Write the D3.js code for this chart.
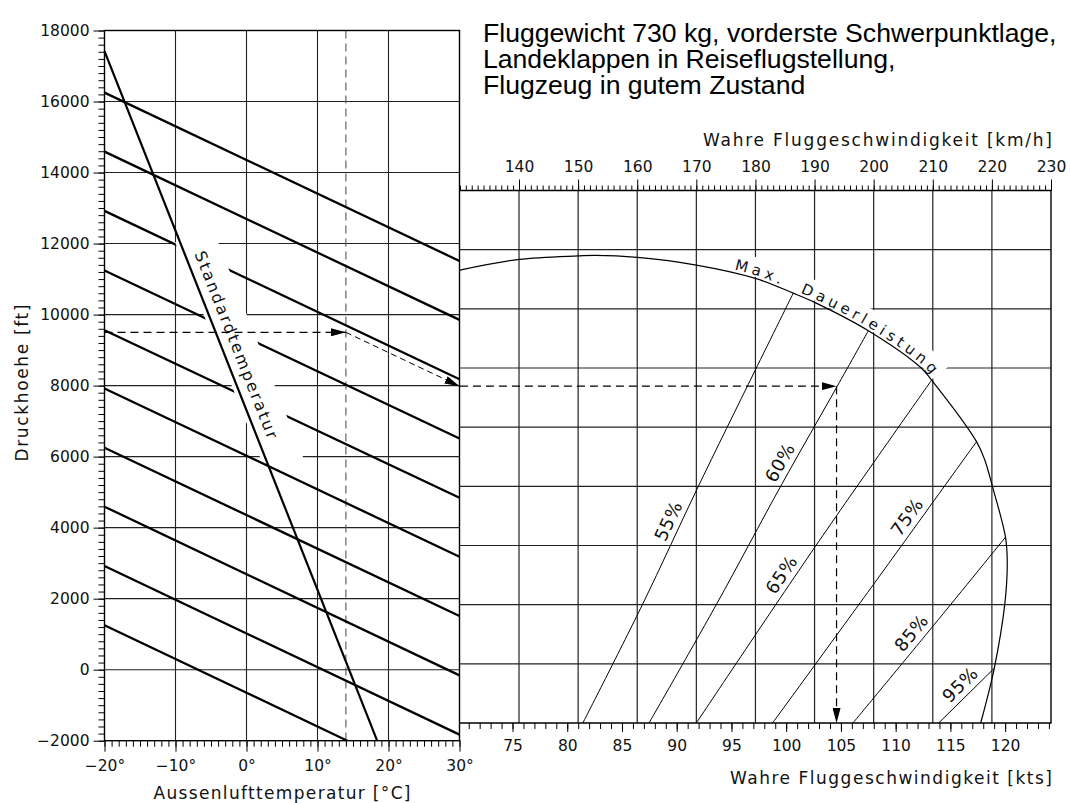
<!DOCTYPE html>
<html>
<head>
<meta charset="utf-8">
<script src="https://cdn.jsdelivr.net/npm/d3@7"></script>
<style>
  body { margin: 0; background: #fff; }
  text { font-family: "DejaVu Sans", sans-serif; fill: #111; }
  .title text { font-family: "Liberation Sans", Arial, sans-serif; font-size: 25px; fill: #000; }
</style>
</head>
<body>
<div id="chart"></div>
<script>
// ---- left panel: pressure altitude / outside air temperature ----
const tempTicks = [-20, -10, 0, 10, 20, 30];
const altTicks = [-2000, 0, 2000, 4000, 6000, 8000, 10000, 12000, 14000, 16000, 18000];
// density altitude guide lines, [OAT degC, pressure alt ft]
const densityLines = [
  [[-20, 16250], [30, 11510]],
  [[-20, 14590], [30, 9850]],
  [[-20, 12920], [30, 8180]],
  [[-20, 11240], [30, 6510]],
  [[-20, 9560], [30, 4840]],
  [[-20, 7920], [30, 3180]],
  [[-20, 6250], [30, 1510]],
  [[-20, 4590], [30, -160]],
  [[-20, 2920], [30, -1830]],
  [[-20, 1250], [14.2, -2000]]
];
const standardTemp = [[-20, 17420], [18.4, -2000]];

// example reading
const exampleOAT = 14;
const examplePA = 9500;
const exampleTAS = 104.6; // kts

// ---- right panel: true airspeed ----
const kmhTicks = [140, 150, 160, 170, 180, 190, 200, 210, 220, 230];
const ktsTicks = [75, 80, 85, 90, 95, 100, 105, 110, 115, 120];
const powerNames = ["55%", "60%", "65%", "75%", "85%", "95%"];
// [km/h, density scale ft]
const powerLines = [
  [[150.8, -2000], [160.9, 2010], [170.1, 5900], [179.9, 9900], [186.4, 12530]],
  [[162.0, -2000], [173.4, 2010], [184.4, 6050], [193.8, 9370], [199.1, 11260]],
  [[170.0, -2000], [190.1, 3960], [209.8, 9590]],
  [[182.9, -2000], [200.1, 2720], [217.4, 7510]],
  [[196.5, -2000], [210.1, 1290], [222.3, 4280]],
  [[211.0, -2000], [220.4, -150]]
];
const powerLabelAt = [4650, 6600, 2780, 4720, 780, -1000];
const maxContinuous = [
  [130, 13310], [140, 13670], [150, 13790], [153, 13810], [160, 13740], [170, 13480],
  [180, 13030], [186.4, 12530], [190.1, 12210], [199.1, 11260], [208.0, 10010],
  [209.8, 9590], [217.4, 7510], [218.8, 6890], [220.1, 5990], [222.3, 4280],
  [222.6, 3400], [222.2, 2050], [220.4, -150], [218.1, -2000]
];
const titleLines = [
  "Fluggewicht 730 kg, vorderste Schwerpunktlage,",
  "Landeklappen in Reiseflugstellung,",
  "Flugzeug in gutem Zustand"
];

const W = 1070, H = 803;
const svg = d3.select("#chart").append("svg").attr("width", W).attr("height", H);

const xT = d3.scaleLinear().domain([-20, 30]).range([104.5, 459.5]);
const yA = d3.scaleLinear().domain([-2000, 18000]).range([740.7, 30.5]);
const xK = d3.scaleLinear().domain([130, 230]).range([459.9, 1051]);
const xKts = d3.scaleLinear().domain([130 / 1.852, 230 / 1.852]).range([459.9, 1051]);
const yD = d3.scaleLinear().domain([-2000, 16000]).range([723, 190.5]);

const defs = svg.append("defs");
defs.append("marker")
  .attr("id", "arrow")
  .attr("viewBox", "0 0 15 8")
  .attr("refX", 15).attr("refY", 4)
  .attr("markerWidth", 15).attr("markerHeight", 8)
  .attr("markerUnits", "userSpaceOnUse")
  .attr("orient", "auto")
  .append("path").attr("d", "M0,0L15,4L0,8Z").attr("fill", "#000");

// ================= left panel =================
const gL = svg.append("g");

gL.selectAll("line.h")
  .data(altTicks.slice(1, -1))
  .enter().append("line")
  .attr("x1", xT(-20)).attr("x2", xT(30))
  .attr("y1", d => yA(d)).attr("y2", d => yA(d))
  .attr("stroke", "#222").attr("stroke-width", 1.1);

gL.selectAll("line.v")
  .data(tempTicks.slice(1, -1))
  .enter().append("line")
  .attr("x1", d => xT(d)).attr("x2", d => xT(d))
  .attr("y1", yA(-2000)).attr("y2", yA(18000))
  .attr("stroke", "#222").attr("stroke-width", 1.1);

gL.append("line")
  .attr("x1", xT(exampleOAT)).attr("x2", xT(exampleOAT))
  .attr("y1", yA(18000)).attr("y2", yA(-2000))
  .attr("stroke", "#555").attr("stroke-width", 1.1)
  .attr("stroke-dasharray", "8,5");

const lineL = d3.line().x(d => xT(d[0])).y(d => yA(d[1]));

gL.selectAll("path.dens")
  .data(densityLines)
  .enter().append("path")
  .attr("d", lineL)
  .attr("fill", "none").attr("stroke", "#000").attr("stroke-width", 2.3);

// white band behind the "Standardtemperatur" label
const stdX = a => {
  const [p0, p1] = standardTemp;
  const t = (a - p0[1]) / (p1[1] - p0[1]);
  return xT(p0[0] + t * (p1[0] - p0[0]));
};
const bandTop = 12040, bandBot = 5900;
gL.append("path")
  .attr("d", `M${stdX(bandTop) - 5},${yA(bandTop)}L${stdX(bandTop) + 38},${yA(bandTop)}` +
             `L${stdX(bandBot) + 38},${yA(bandBot)}L${stdX(bandBot) - 5},${yA(bandBot)}Z`)
  .attr("fill", "#fff");

gL.append("path")
  .datum(standardTemp)
  .attr("d", lineL)
  .attr("fill", "none").attr("stroke", "#000").attr("stroke-width", 2.2);

{
  const a = 9000;
  const p0 = [xT(standardTemp[0][0]), yA(standardTemp[0][1])];
  const p1 = [xT(standardTemp[1][0]), yA(standardTemp[1][1])];
  const ang = Math.atan2(p1[1] - p0[1], p1[0] - p0[0]) * 180 / Math.PI;
  gL.append("text")
    .attr("transform", `translate(${stdX(a)},${yA(a)}) rotate(${ang})`)
    .attr("dy", -9)
    .attr("text-anchor", "middle")
    .attr("textLength", 200).attr("lengthAdjust", "spacing")
    .style("font-size", "16px")
    .text("Standardtemperatur");
}

gL.append("rect")
  .attr("x", xT(-20)).attr("y", yA(18000))
  .attr("width", xT(30) - xT(-20)).attr("height", yA(-2000) - yA(18000))
  .attr("fill", "none").attr("stroke", "#000").attr("stroke-width", 1.4);

// axes (left)
const fmtTemp = d => (d < 0 ? "\u2212" + Math.abs(d) : d) + "\u00b0";
const fmtAlt = d => (d < 0 ? "\u2212" + Math.abs(d) : "" + d);

gL.append("g").attr("transform", `translate(${xT(-20)},0)`)
  .call(d3.axisLeft(yA).tickValues(d3.range(-2000, 18001, 200)).tickSize(6).tickFormat(""));
gL.append("g").attr("transform", `translate(${xT(-20)},0)`)
  .call(d3.axisLeft(yA).tickValues(altTicks).tickSize(11).tickPadding(4).tickFormat(fmtAlt));
gL.append("g").attr("transform", `translate(0,${yA(-2000)})`)
  .call(d3.axisBottom(xT).tickValues(d3.range(-20, 31, 1)).tickSize(6).tickFormat(""));
gL.append("g").attr("transform", `translate(0,${yA(-2000)})`)
  .call(d3.axisBottom(xT).tickValues(tempTicks).tickSize(11).tickPadding(8).tickFormat(fmtTemp));

gL.append("text")
  .attr("x", (xT(-20) + xT(30)) / 2).attr("y", 799)
  .attr("text-anchor", "middle")
  .attr("textLength", 257).attr("lengthAdjust", "spacing")
  .style("font-size", "17px")
  .text("Aussenlufttemperatur  [\u00b0C]");

gL.append("text")
  .attr("transform", "translate(28,383) rotate(-90)")
  .attr("text-anchor", "middle")
  .attr("textLength", 157).attr("lengthAdjust", "spacing")
  .style("font-size", "17px")
  .text("Druckhoehe  [ft]");

// ================= right panel =================
const gR = svg.append("g");

gR.selectAll("line.h")
  .data(d3.range(0, 14001, 2000))
  .enter().append("line")
  .attr("x1", xK(130)).attr("x2", xK(230))
  .attr("y1", d => yD(d)).attr("y2", d => yD(d))
  .attr("stroke", "#222").attr("stroke-width", 1.2);

gR.selectAll("line.v")
  .data(kmhTicks.slice(0, -1))
  .enter().append("line")
  .attr("x1", d => xK(d)).attr("x2", d => xK(d))
  .attr("y1", yD(16000)).attr("y2", yD(-2000))
  .attr("stroke", "#222").attr("stroke-width", 1.2);

const lineR = d3.line().x(d => xK(d[0])).y(d => yD(d[1])).curve(d3.curveCatmullRom);

// max. continuous power limit
const arcPath = gR.append("path")
  .datum(maxContinuous)
  .attr("d", lineR)
  .attr("fill", "none").attr("stroke", "#000").attr("stroke-width", 1.2);

const node = arcPath.node();
const total = node.getTotalLength();
const lenAtX = px => {
  for (let l = 0; l <= total; l += 0.5) if (node.getPointAtLength(l).x >= px) return l;
  return total;
};
const l0 = lenAtX(xK(176.2)), l1 = lenAtX(xK(209.5));
const offsetPts = (a, b, off) => {
  const pts = [];
  for (let l = a; l <= b; l += 2) {
    const p = node.getPointAtLength(l), q = node.getPointAtLength(l + 1);
    const tx = q.x - p.x, ty = q.y - p.y, n = Math.hypot(tx, ty) || 1;
    pts.push([p.x + ty / n * off, p.y - tx / n * off]);
  }
  return pts;
};
gR.insert("path", () => node)
  .attr("d", d3.line()(offsetPts(l0 - 6, l1 + 4, 11)))
  .attr("fill", "none").attr("stroke", "#fff").attr("stroke-width", 19);

defs.append("path").attr("id", "arcText")
  .attr("d", d3.line()(offsetPts(l0, l1 + 30, 3)));
gR.append("text")
  .style("font-size", "15px").style("white-space", "pre")
  .append("textPath")
  .attr("href", "#arcText")
  .attr("textLength", l1 - l0).attr("lengthAdjust", "spacing")
  .text("Max.  Dauerleistung");

// power setting lines
gR.selectAll("path.pow")
  .data(powerLines)
  .enter().append("path")
  .attr("d", lineR)
  .attr("fill", "none").attr("stroke", "#000").attr("stroke-width", 1);

const pointAtY = (pts, y) => {
  for (let i = 0; i < pts.length - 1; i++) {
    const [x0, y0] = pts[i], [x1, y1] = pts[i + 1];
    if ((y - y0) * (y - y1) <= 0) {
      const t = (y - y0) / (y1 - y0);
      return { x: x0 + t * (x1 - x0), y, ang: Math.atan2(y1 - y0, x1 - x0) * 180 / Math.PI };
    }
  }
  return null;
};
powerLines.forEach((ln, i) => {
  const px = ln.map(d => [xK(d[0]), yD(d[1])]);
  const p = pointAtY(px, yD(powerLabelAt[i]));
  gR.append("text")
    .attr("transform", `translate(${p.x},${p.y}) rotate(${p.ang})`)
    .attr("dy", -6)
    .attr("text-anchor", "middle")
    .style("font-size", "18px").style("letter-spacing", "0.5px")
    .text(powerNames[i]);
});

gR.append("path")
  .attr("d", `M${xK(130)},${yD(16000)}H${xK(230)}V${yD(-2000)}H${xK(130)}`)
  .attr("fill", "none").attr("stroke", "#000").attr("stroke-width", 1.4);

gR.append("g").attr("transform", `translate(0,${yD(16000)})`)
  .call(d3.axisTop(xK).tickValues(d3.range(130, 231, 1)).tickSize(5).tickFormat(""));
gR.append("g").attr("transform", `translate(0,${yD(16000)})`)
  .call(d3.axisTop(xK).tickValues(kmhTicks).tickSize(11).tickPadding(8));
gR.append("g").attr("transform", `translate(0,${yD(-2000)})`)
  .call(d3.axisBottom(xKts).tickValues(d3.range(71, 125, 1)).tickSize(6).tickFormat(""));
gR.append("g").attr("transform", `translate(0,${yD(-2000)})`)
  .call(d3.axisBottom(xKts).tickValues(ktsTicks).tickSize(9).tickPadding(8));

gR.append("text")
  .attr("x", 1052).attr("y", 146)
  .attr("text-anchor", "end")
  .attr("textLength", 349).attr("lengthAdjust", "spacing")
  .style("font-size", "17px")
  .text("Wahre Fluggeschwindigkeit  [km/h]");
gR.append("text")
  .attr("x", 1052).attr("y", 784)
  .attr("text-anchor", "end")
  .attr("textLength", 322).attr("lengthAdjust", "spacing")
  .style("font-size", "17px")
  .text("Wahre Fluggeschwindigkeit  [kts]");

// axis styling
svg.selectAll(".domain").remove();
svg.selectAll(".tick line").attr("stroke", "#000").attr("stroke-width", 1);
svg.selectAll(".tick text")
  .style("font-family", "\"DejaVu Sans\", sans-serif")
  .style("font-size", "15.5px").attr("fill", "#111");

// ================= example reading =================
const gE = svg.append("g");
const [[ta, aa], [tb, ab]] = densityLines[0];
const densSlope = (ab - aa) / (tb - ta);
const altAt30 = examplePA + densSlope * (30 - exampleOAT);
const yMid = yA(altAt30);

gE.append("line")
  .attr("x1", xT(-20)).attr("y1", yA(examplePA))
  .attr("x2", xT(exampleOAT)).attr("y2", yA(examplePA))
  .attr("stroke", "#000").attr("stroke-width", 1.2).attr("stroke-dasharray", "8,5")
  .attr("marker-end", "url(#arrow)");
gE.append("line")
  .attr("x1", xT(exampleOAT)).attr("y1", yA(examplePA))
  .attr("x2", xT(30)).attr("y2", yMid)
  .attr("stroke", "#000").attr("stroke-width", 1).attr("stroke-dasharray", "6,4")
  .attr("marker-end", "url(#arrow)");
gE.append("line")
  .attr("x1", xK(130)).attr("y1", yMid)
  .attr("x2", xKts(exampleTAS)).attr("y2", yMid)
  .attr("stroke", "#000").attr("stroke-width", 1.2).attr("stroke-dasharray", "8,5")
  .attr("marker-end", "url(#arrow)");
gE.append("line")
  .attr("x1", xKts(exampleTAS)).attr("y1", yMid)
  .attr("x2", xKts(exampleTAS)).attr("y2", yD(-2000))
  .attr("stroke", "#000").attr("stroke-width", 1.2).attr("stroke-dasharray", "8,5")
  .attr("marker-end", "url(#arrow)");

// ================= title =================
const gT = svg.append("g").attr("class", "title");
gT.selectAll("text")
  .data(titleLines)
  .enter().append("text")
  .attr("x", 0).attr("y", (d, i) => i * 26)
  .text(d => d);
const tw = gT.select("text").node().getComputedTextLength();
gT.attr("transform", `translate(483,42) scale(${574 / tw},1)`);
</script>
</body>
</html>
